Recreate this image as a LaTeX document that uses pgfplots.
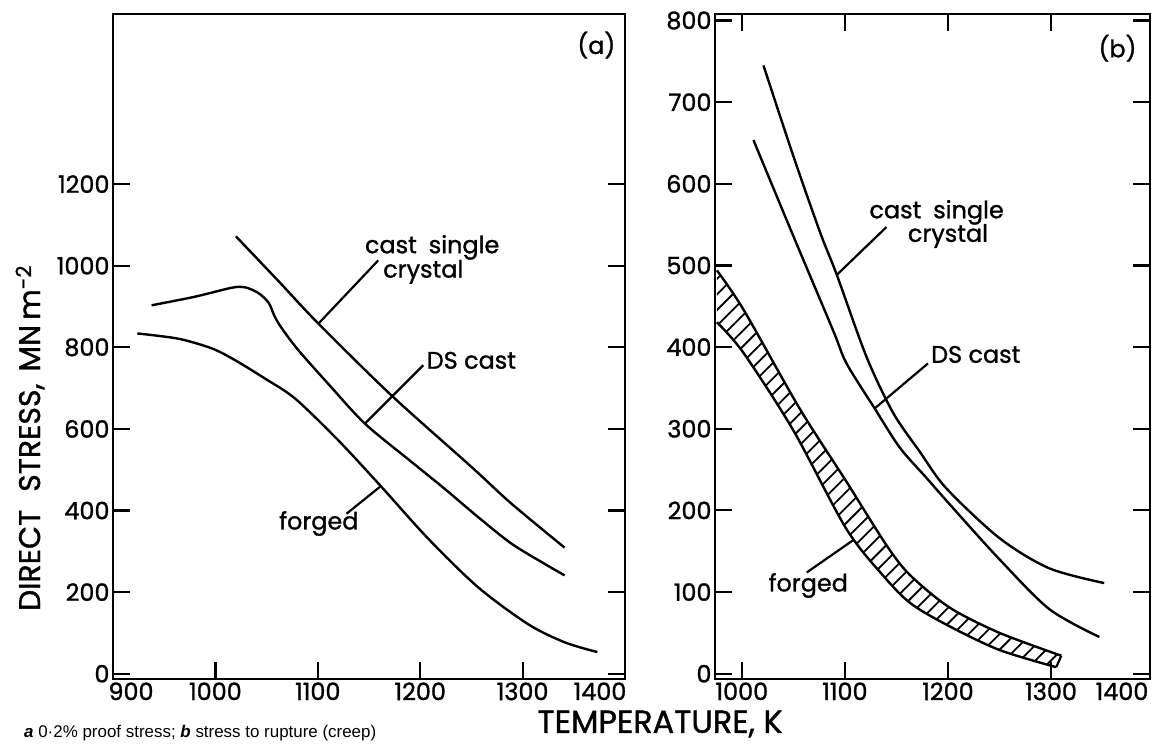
\documentclass[border=0pt]{standalone}
\usepackage{fontspec}
\setmainfont{Poppins}[FakeBold=1.2]
\newfontfamily\capfont{Liberation Sans}
\usepackage{pgfplots}
\pgfplotsset{compat=1.18}
\usetikzlibrary{patterns.meta}
\pgfplotsset{
  panel/.style={
    scale only axis, height=665bp,
    axis line style={line width=2.4bp},
    tick style={black, line width=2.2bp},
    major tick length=17bp,
    tick align=inside,
    ticklabel style={font=\fontsize{24}{24}\selectfont},
    /pgf/number format/assume math mode=true,
    /pgf/number format/1000 sep={},
    clip=false,
    ytick pos=both, yticklabel pos=left,
    xticklabel pos=lower,
  },
}
\tikzset{
  crv/.style={line width=2.4bp, black, smooth},
  ldr/.style={line width=2.2bp, black},
  ann/.style={font=\fontsize{24}{26}\selectfont, align=center, inner sep=0pt},
}
\begin{document}
\begin{tikzpicture}
\path[use as bounding box] (0bp,0bp) rectangle (1162bp,747bp);

% ---------------- panel (a)
\begin{axis}[panel, at={(113bp,68bp)}, anchor=south west, width=512bp,
  xmin=900, xmax=1400, ymin=-13, ymax=1617,
  xtick pos=lower,
  xtick={900,1000,1100,1200,1300,1400},
  xticklabels={{\hspace*{36bp}900},1000,1100,1200,1300,{1400\hspace*{50bp}}},
  ytick={0,200,400,600,800,1000,1200},
]
\addplot[crv] coordinates {(1020,1072) (1061.7,962) (1100.6,858) (1172,682) (1250,507) (1289,417) (1341,309)};
\addplot[crv] coordinates {(937.7,903) (980,924) (1016,946) (1029,947) (1042,933) (1052,909) (1058,875) (1065,846) (1081,793) (1110,711) (1146,613) (1191.6,519) (1224,453) (1256.5,384) (1289,319) (1321,270) (1341,241)};
\addplot[crv] coordinates {(923.7,834) (964,821) (996.8,797) (1019.5,768) (1048.7,723) (1078,674) (1120,572) (1160.7,462) (1207.8,331) (1256.5,212) (1305,122) (1341,77) (1373,53)};
\addplot[ldr] coordinates {(1100.6,858) (1159,1013)};
\addplot[ldr] coordinates {(1146,613) (1203,756)};
\addplot[ldr] coordinates {(1160.7,458) (1128,392)};
\node[ann] at (axis cs:1211.7,1045) {cast\hspace{0.5em}single};
\node[ann] at (axis cs:1203,985) {crystal};
\node[ann] at (axis cs:1250,768) {DS cast};
\node[ann] at (axis cs:1101,368) {forged};
\node[ann] at (axis cs:1372,1541) {(a)};
\end{axis}

% ---------------- panel (b)
\begin{axis}[panel, at={(715bp,68bp)}, anchor=south west, width=435bp,
  xmin=974, xmax=1396, ymin=-6.5, ymax=808,
  xtick pos=both,
  xtick={1000,1100,1200,1300,1396},
  xticklabels={1000,1100,1200,1300,{1400\hspace*{56bp}}},
  ytick={0,100,200,300,400,500,600,700,800},
  yticklabels={0,100,200,300,400,500,600,700,{\raisebox{-7bp}{800}}},
]
\addplot[pattern={Lines[angle=45,distance=11bp,line width=1.8bp]}, draw=none] coordinates {(975.8,494) (1001.6,446) (1056,325) (1101.6,235) (1140,158) (1163,121) (1201.6,81) (1250,50) (1310,22) (1305,8) (1250,29) (1201.6,58) (1165,85) (1140,116) (1101.6,177) (1050,298) (1001.6,393) (975.8,430.5)} -- cycle;
\addplot[crv] coordinates {(975.8,494) (1001.6,446) (1056,325) (1101.6,235) (1140,158) (1163,121) (1201.6,81) (1250,50) (1310,22)};
\addplot[crv] coordinates {(975.8,430.5) (1001.6,393) (1050,298) (1101.6,177) (1140,116) (1165,85) (1201.6,58) (1250,29) (1305,8)};
\addplot[crv] coordinates {(1021,745) (1050,634) (1075.8,541) (1092,489) (1121,388) (1146.8,319.5) (1172.6,272) (1198.4,227) (1250,166) (1298.4,129) (1351.6,111)};
\addplot[crv] coordinates {(1011.3,653.5) (1050,536) (1088.7,420) (1101.6,380) (1129,324.7) (1153.2,277) (1179,240) (1204.8,203) (1250,140) (1298.4,79) (1346.8,45)};
\addplot[ldr] coordinates {(1310,22) (1305,8)};
\addplot[ldr] coordinates {(1092.6,489) (1140.3,547)};
\addplot[ldr] coordinates {(1129,325) (1180.6,380)};
\addplot[ldr] coordinates {(1108,163.5) (1063,124)};
\node[ann] at (axis cs:1189,565) {cast\hspace{0.5em}single};
\node[ann] at (axis cs:1200,536) {crystal};
\node[ann] at (axis cs:1227,391) {DS cast};
\node[ann] at (axis cs:1064.5,108) {forged};
\node[ann] at (axis cs:1364.5,766) {(b)};
\end{axis}

\node[rotate=90, font=\fontsize{30}{30}\selectfont, inner sep=0pt] at (30bp,309bp) {DIRECT\hspace{0.6em}STRESS,\hspace{0.4em}MN\,m\textsuperscript{-2}};
\node[font=\fontsize{32}{32}\selectfont, inner sep=0pt] at (660bp,23bp) {TEMPERATURE, K};
\node[anchor=west, font=\capfont\fontsize{17}{17}\selectfont, inner sep=0pt] at (24bp,14bp) {\textbf{\textit{a}} 0·2\% proof stress; \textbf{\textit{b}} stress to rupture (creep)};
\end{tikzpicture}
\end{document}
